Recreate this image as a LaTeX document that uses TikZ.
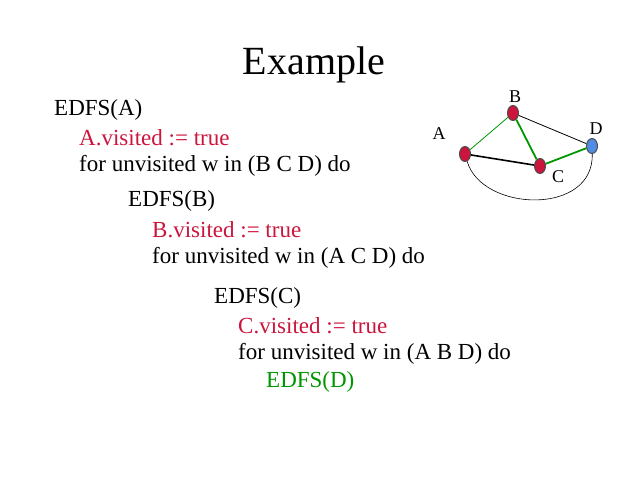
\documentclass[tikz,border=0pt]{standalone}
\usepackage{fontspec}
\setmainfont{Liberation Serif}
\usetikzlibrary{shapes.geometric}
\definecolor{vred}{RGB}{204,20,60}
\definecolor{vgreen}{RGB}{0,150,0}
\definecolor{vblue}{RGB}{80,140,230}
\begin{document}
\begin{tikzpicture}[x=1pt,y=-1pt]
\tikzstyle{codeline} = [anchor=west, inner sep=0pt, font=\fontsize{23}{27}\selectfont]
\tikzstyle{vertex} = [ellipse, draw=black!70, line width=1pt, minimum width=11pt, minimum height=15pt, inner sep=0pt, fill=vred]
\tikzstyle{vlabel} = [inner sep=0pt, font=\fontsize{18}{21}\selectfont]
\useasboundingbox (0,0) rectangle (640,480);
\node (title) at (314,65) {\fontsize{40}{46}\selectfont Example};
% the recursive calls
\node (edfsA)[codeline] at (54,110) {EDFS(A)};
\node (visA)[codeline, vred] at (79,138) {A.visited := true};
\node (forA)[codeline] at (79,166) {for unvisited w in (B C D) do};
\node (edfsB)[codeline] at (128,201) {EDFS(B)};
\node (visB)[codeline, vred] at (152,230) {B.visited := true};
\node (forB)[codeline] at (152,258) {for unvisited w in (A C D) do};
\node (edfsC)[codeline] at (214,298) {EDFS(C)};
\node (visC)[codeline, vred] at (238,326) {C.visited := true};
\node (forC)[codeline] at (238,354) {for unvisited w in (A B D) do};
\node (edfsD)[codeline, vgreen] at (266,382) {EDFS(D)};
% the graph
\node (A)[vertex] at (465,154) {};
\node (B)[vertex] at (513,113) {};
\node (C)[vertex] at (540,166) {};
\node (D)[vertex, fill=vblue] at (592,146) {};
\node (lA)[vlabel] at (439,134) {A};
\node (lB)[vlabel] at (515,97) {B};
\node (lC)[vlabel] at (558,177) {C};
\node (lD)[vlabel] at (596,129) {D};
\draw [vgreen, line width=0.8pt] (A) -- (B);
\draw [vgreen, line width=1.8pt] (B) -- (C);
\draw [vgreen, line width=1.8pt] (C) -- (D);
\draw [line width=1.6pt] (A) -- (C);
\draw [line width=0.8pt] (B) -- (D);
\draw [line width=0.6pt] (A) .. controls (482,212) and (594,216) .. (D);
\end{tikzpicture}
\end{document}
